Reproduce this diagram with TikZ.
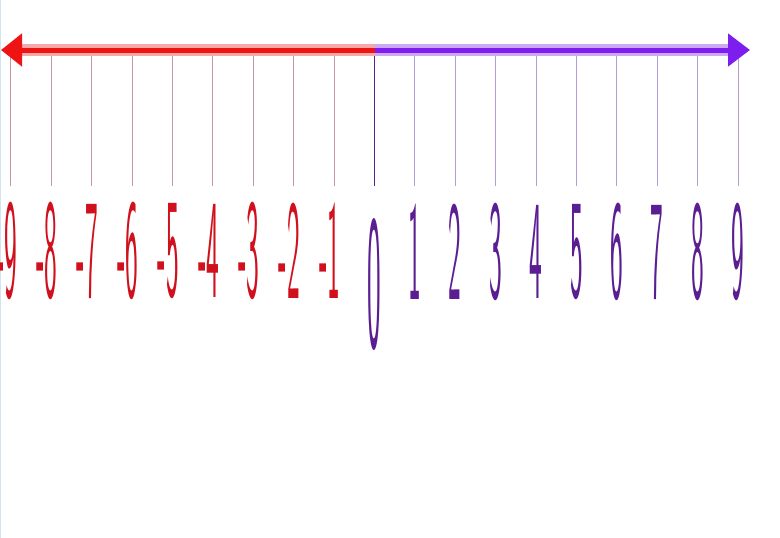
\documentclass[tikz,border=0pt]{standalone}
\usetikzlibrary{arrows.meta}
\definecolor{redline}{HTML}{EE1414}
\definecolor{redhalo}{HTML}{F8A8A8}
\definecolor{purpline}{HTML}{7E1EEE}
\definecolor{purphalo}{HTML}{CDA8F4}
\definecolor{reddig}{HTML}{D0101C}
\definecolor{purpdig}{HTML}{5A1E92}
\definecolor{redtick}{HTML}{C8969E}
\definecolor{purptick}{HTML}{B49CD4}
\definecolor{edgeblue}{HTML}{CFE6F2}
\newcommand\tallnum[1]{\scalebox{1.35}[7.1]{#1}}
\newcommand\tallzero[1]{\scalebox{1.45}[9.6]{#1}}
\begin{document}
\begin{tikzpicture}[x=1pt,y=-1pt,
  numlab/.style={inner sep=0pt, font=\sffamily\fontsize{20}{20}\selectfont},
  ticks/.style={line width=0.9pt}]
\useasboundingbox (0,0) rectangle (780,538);
\draw[edgeblue, line width=1pt] (0.5,0) -- (0.5,538);
% tick coordinates
\foreach \i in {-9,...,9}{
  \coordinate (t\i) at ({374.5+40.4*\i},50);
  \coordinate (b\i) at ({374.5+40.4*\i},186);
}
\coordinate (leftend) at (1,50);
\coordinate (rightend) at (750,50);
% ticks
\foreach \i in {-9,...,-1}{ \draw[ticks, redtick] (t\i) -- (b\i); }
\foreach \i in {1,...,9}{ \draw[ticks, purptick] (t\i) -- (b\i); }
\draw[ticks, purpdig] (t0) -- (b0);
% axis halos
\draw[redhalo, line width=12pt] (20,50) -- (t0);
\draw[purphalo, line width=12pt] (t0) -- (728,50);
% axis lines with arrows
\draw[redline, line width=5pt, {Triangle[length=21pt,width=32pt]}-] (leftend) -- (t0);
\draw[purpline, line width=5pt, -{Triangle[length=22pt,width=32pt]}] (t0) -- (rightend);
% labels
\foreach \i in {-9,...,-1}{
  \node[numlab, text=reddig, anchor=east] (l\i) at ({374.5+40.4*\i+6.5},251) {\tallnum{-\the\numexpr-\i\relax}};
}
\foreach \i in {1,...,9}{
  \node[numlab, text=purpdig] (l\i) at ({374.5+40.4*\i},252) {\tallnum{\i}};
}
\node[numlab, text=purpdig] (l0) at (374,285) {\tallzero{0}};
\end{tikzpicture}
\end{document}
